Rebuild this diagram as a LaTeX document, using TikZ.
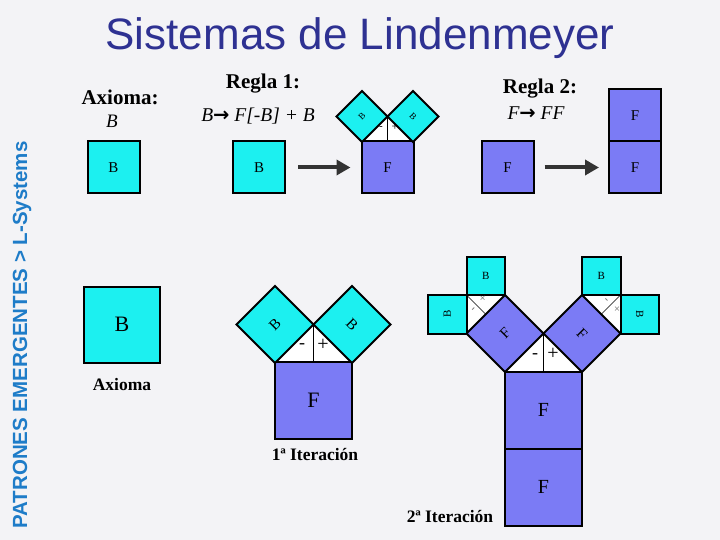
\documentclass[tikz,border=0pt]{standalone}
\usepackage{fontspec}
\setmainfont{Liberation Serif}
\newfontfamily\headfont{Liberation Sans}
\newfontfamily\arrowfont{DejaVu Sans}
\usetikzlibrary{arrows.meta}
\definecolor{LSblue}{HTML}{2E3192}
\definecolor{LSside}{HTML}{1E7CC8}
\definecolor{LScyan}{HTML}{1CF0F0}
\definecolor{LSviolet}{HTML}{7B7BF5}
\definecolor{LSback}{HTML}{F3F3F6}
\newcommand{\fsz}[1]{\fontsize{#1}{#1}\selectfont}
\newcommand{\rarr}{{\upshape\arrowfont\bfseries →}}

\begin{document}
\begin{tikzpicture}[x=1pt, y=-1pt,
    bsq/.style={draw=black, fill=LScyan, line width=2pt, minimum size=#1, inner sep=0pt},
    fsq/.style={draw=black, fill=LSviolet, line width=2pt, minimum size=#1, inner sep=0pt},
    gap/.style={fill=white},
    mid/.style={draw=black, line width=0.8pt},
    flow/.style={line width=4pt, draw=black!80, -{Triangle[length=14pt, width=15pt]}},
    lbl/.style={font=\bfseries\fsz{#1}, inner sep=0pt}]
    \useasboundingbox (0,0) rectangle (720,540);
    \fill[LSback] (0,0) rectangle (720,540);

    % Titel und Seitenleiste
    \node[font=\headfont\fsz{44}, text=LSblue] (title) at (360,38) {Sistemas de Lindenmeyer};
    \node[font=\headfont\bfseries\fsz{20.5}, text=LSside, rotate=90] (side) at (22,335) {PATRONES EMERGENTES > L-Systems};

    % Axioma und Regeln (oben)
    \node[lbl=21] (axtitle) at (120,97) {Axioma:};
    \node[font=\itshape\fsz{19}] (axword) at (112,121) {B};
    \node[lbl=21] (r1title) at (263,84) {Regla 1:};
    \node[font=\itshape\fsz{19.5}] (r1word) at (258,116) {B\rarr{} F[-B] + B};
    \node[lbl=21] (r2title) at (540,89) {Regla 2:};
    \node[font=\itshape\fsz{19.5}] (r2word) at (536,113) {F\rarr{} FF};

    \node[bsq=52, font=\fsz{15}] (ax0) at (113.5,167.5) {B};
    \node[bsq=52, font=\fsz{15}] (r1in) at (259,167.5) {B};

    \fill[gap] (362,142) -- (387.5,116.5) -- (413,142) -- cycle;
    \node[fsq=52, font=\fsz{15}] (r1F) at (387.5,167.5) {F};
    \node[bsq=36, rotate=45, font=\fsz{9}] (r1l) at (362,116.5) {B};
    \node[bsq=36, rotate=-45, font=\fsz{9}] (r1r) at (413,116.5) {B};
    \draw[mid] (387.5,116.5) -- (387.5,141.5);
    \node[font=\fsz{11}] (r1m) at (381,128) {-};
    \node[font=\fsz{12}] (r1p) at (395,127) {+};
    \draw[flow, shorten <=12pt, shorten >=10pt] (r1in) -- (r1F);

    \node[fsq=52, font=\fsz{15}] (r2in) at (507.5,167.5) {F};
    \node[fsq=52, font=\fsz{15}] (r2top) at (635,115.5) {F};
    \node[fsq=52, font=\fsz{15}] (r2bot) at (635,167.5) {F};
    \draw[flow, shorten <=10pt, shorten >=9pt] (r2in) -- (r2bot);

    % Axioma (unten)
    \node[bsq=76, font=\fsz{22}] (axB) at (122,324.5) {B};
    \node[lbl=17.5] (axcap) at (122,385) {Axioma};

    % 1. Iteration
    \fill[gap] (275,362) -- (313.5,324.5) -- (352,362) -- cycle;
    \node[fsq=77, font=\fsz{22}] (i1F) at (313.5,400.5) {F};
    \node[bsq=54.4, rotate=45, font=\fsz{15}] (i1l) at (275,324.5) {B};
    \node[bsq=54.4, rotate=-45, font=\fsz{15}] (i1r) at (352,324.5) {B};
    \draw[mid] (313.5,324.5) -- (313.5,362);
    \node[font=\fsz{18}] (i1m) at (302,346) {-};
    \node[font=\fsz{20}] (i1p) at (323,345) {+};
    \node[lbl=17.5] (i1cap) at (315,455) {1ª Iteración};

    % 2. Iteration
    \fill[gap] (505,371.5) -- (543.5,333.5) -- (582,371.5) -- cycle;
    \fill[gap] (466.5,333.5) -- (466.5,295) -- (505,295) -- cycle;
    \fill[gap] (582,295) -- (620.5,295) -- (620.5,333.5) -- cycle;
    \node[fsq=77, font=\fsz{20}] (i2F1) at (543.5,410) {F};
    \node[fsq=77, font=\fsz{20}] (i2F2) at (543.5,487) {F};
    \node[fsq=54.4, rotate=45, font=\fsz{15}] (i2l) at (505,333.5) {F};
    \node[fsq=54.4, rotate=-45, font=\fsz{15}] (i2r) at (582,333.5) {F};
    \node[bsq=38.5, rotate=90, font=\fsz{11}] (i2ll) at (447.25,314.25) {B};
    \node[bsq=38.5, font=\fsz{11}] (i2lr) at (485.75,275.75) {B};
    \node[bsq=38.5, font=\fsz{11}] (i2rl) at (601.25,275.75) {B};
    \node[bsq=38.5, rotate=-90, font=\fsz{11}] (i2rr) at (639.75,314.25) {B};
    \draw[mid] (543.5,333.5) -- (543.5,371.5);
    \draw[mid, line width=0.5pt] (466.5,295) -- (485.75,314.25);
    \draw[mid, line width=0.5pt] (620.5,295) -- (601.25,314.25);
    \node[font=\fsz{18}] (i2m) at (535,356) {-};
    \node[font=\fsz{20}] (i2p) at (553,354) {+};
    \node[font=\fsz{12}, rotate=45, text=black!55] (i2lm) at (474,310) {-};
    \node[font=\fsz{12}, rotate=45, text=black!55] (i2lp) at (483,299) {+};
    \node[font=\fsz{12}, rotate=-45, text=black!55] (i2rm) at (605.7,300.7) {-};
    \node[font=\fsz{12}, rotate=-45, text=black!55] (i2rp) at (616.7,309.3) {+};
    \node[lbl=17.5] (i2cap) at (450,517) {2ª Iteración};
\end{tikzpicture}
\end{document}
